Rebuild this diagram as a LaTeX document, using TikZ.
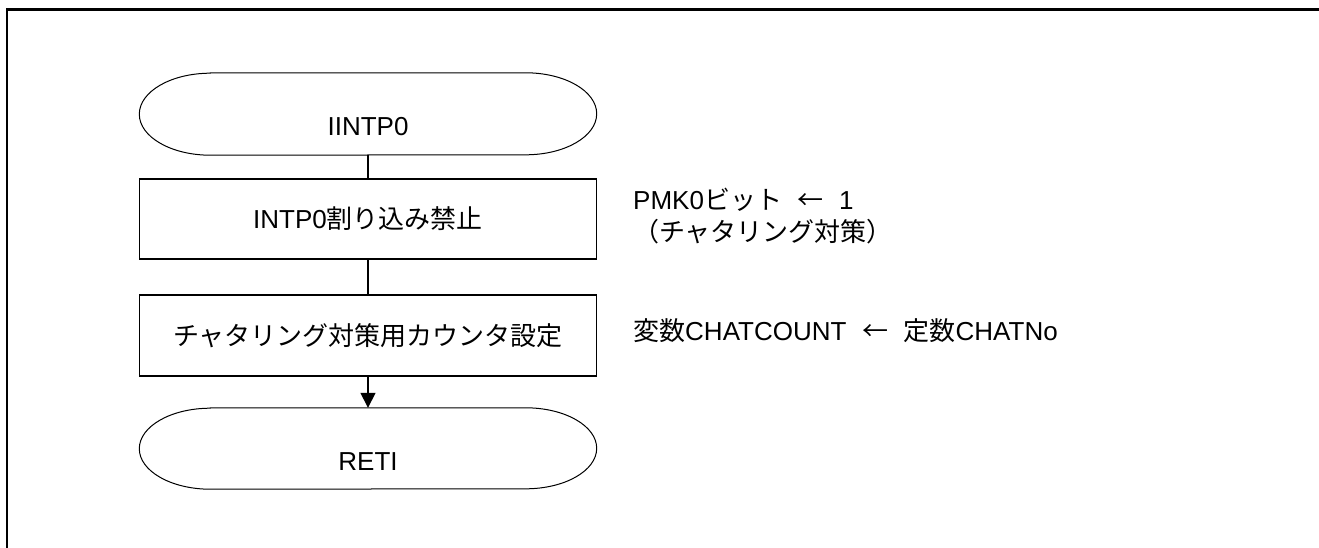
\documentclass[tikz,border=0pt]{standalone}
\usepackage{fontspec}
\setmainfont{Liberation Sans}
\newfontfamily\jp{Noto Sans CJK JP}
\usetikzlibrary{arrows.meta,calc}
\begin{document}
\begin{tikzpicture}[x=1pt,y=1pt,
  every node/.style={font=\fontsize{26pt}{32pt}\selectfont},
  termshape/.style={minimum width=457pt,minimum height=82pt,inner sep=0pt},
  termtext/.style={inner sep=0pt},
  proc/.style={draw,line width=1.5pt,minimum width=457pt,minimum height=80pt,inner sep=0pt},
  note/.style={anchor=west,align=left,inner sep=0pt},
  conn/.style={line width=1.5pt},
  termline/.style={line width=1pt}]
\useasboundingbox (0,0) rectangle (1319,-548);
% frame
\draw[line width=2.5pt] (7,-548) -- (7,-9.3) -- (1319,-9.3);
% nodes
\node[termshape] (start) at (368,-114) {};
\node[termtext] (startlbl) at (368,-126.5) {IINTP0};
\node[proc] (p1) at (368,-219) {INTP0{\jp 割り込み禁止}};
\node[proc,minimum height=81pt] (p2) at (368,-335.5) {{\jp チャタリング対策用カウンタ設定}};
\node[termshape,minimum height=81pt] (end) at (368,-448.5) {};
\node[termtext] (endlbl) at (368,-462) {RETI};
% terminal outlines
\draw[termline] ([xshift=71pt]start.north west) -- ([xshift=-71pt]start.north east)
  arc[start angle=90,end angle=-90,x radius=71pt,y radius=41pt]
  -- ([xshift=71pt]start.south west)
  arc[start angle=270,end angle=90,x radius=71pt,y radius=41pt] -- cycle;
\draw[termline] ([xshift=71pt]end.north west) -- ([xshift=-71pt]end.north east)
  arc[start angle=90,end angle=-90,x radius=71pt,y radius=40.5pt]
  -- ([xshift=71pt]end.south west)
  arc[start angle=270,end angle=90,x radius=71pt,y radius=40.5pt] -- cycle;
% notes
\node[note] (n1) at (633,-216) {PMK0{\jp ビット}\hspace{0.6em}{\jp ←}\hspace{0.6em}1\\{\jp （チャタリング対策）}};
\node[note] (n2) at (633,-331) {{\jp 変数}CHATCOUNT\hspace{0.6em}{\jp ←}\hspace{0.6em}{\jp 定数}CHATNo};
% connectors
\draw[conn] (start.south) -- (p1.north);
\draw[conn] (p1.south) -- (p2.north);
\draw[conn,-{Triangle[length=15pt,width=15pt]}] (p2.south) -- (end.north);
\end{tikzpicture}
\end{document}
